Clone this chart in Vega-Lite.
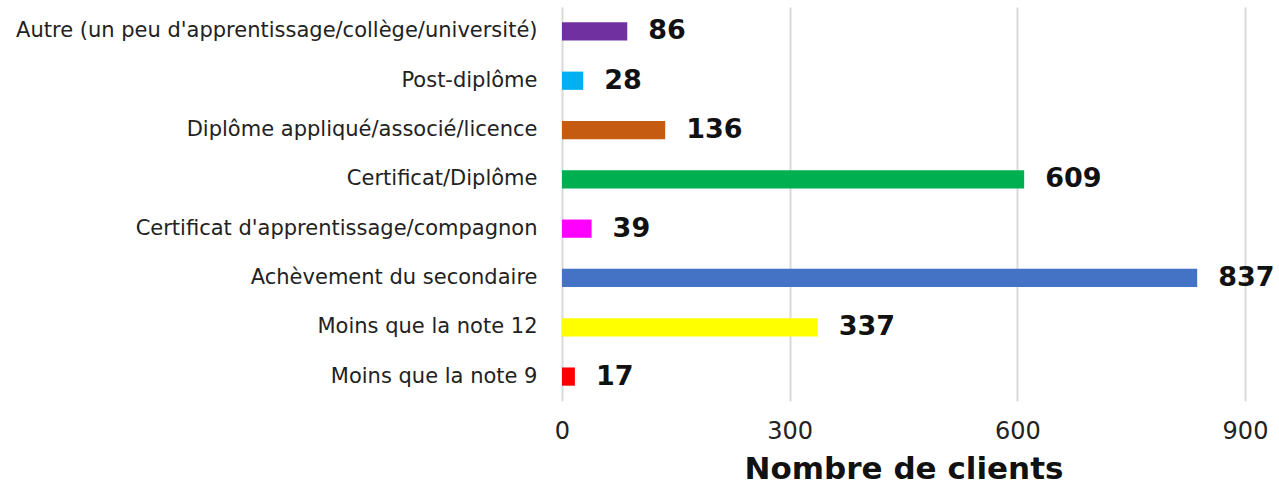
{
  "$schema": "https://vega.github.io/schema/vega-lite/v6.json",
  "autosize": "none",
  "width": 683,
  "height": 394,
  "padding": {"left": 562, "top": 7, "right": 34, "bottom": 91},
  "background": "white",
  "config": {"view": {"stroke": null}, "font": "DejaVu Sans"},
  "data": {"values": [
    {"cat": "Autre (un peu d'apprentissage/collège/université)", "n": 86, "color": "#7030A0"},
    {"cat": "Post-diplôme", "n": 28, "color": "#00B0F0"},
    {"cat": "Diplôme appliqué/associé/licence", "n": 136, "color": "#C55A11"},
    {"cat": "Certificat/Diplôme", "n": 609, "color": "#00B050"},
    {"cat": "Certificat d'apprentissage/compagnon", "n": 39, "color": "#FF00FF"},
    {"cat": "Achèvement du secondaire", "n": 837, "color": "#4472C4"},
    {"cat": "Moins que la note 12", "n": 337, "color": "#FFFF00"},
    {"cat": "Moins que la note 9", "n": 17, "color": "#FF0000"}
  ]},
  "encoding": {
    "y": {"field": "cat", "type": "nominal", "sort": null,
      "scale": {"paddingInner": 0.63, "paddingOuter": 0.31},
      "axis": {"title": null, "domain": false, "ticks": false, "labelFontSize": 21, "labelPadding": 25, "labelColor": "#222", "labelLimit": 700}},
    "x": {"field": "n", "type": "quantitative",
      "scale": {"domain": [0, 900], "nice": false},
      "axis": {"values": [0, 300, 600, 900], "title": "Nombre de clients", "titleFontSize": 31, "titleFontWeight": "bold", "titleColor": "#111", "titlePadding": 11,
        "domain": false, "ticks": false, "labelFontSize": 24, "labelPadding": 18, "labelColor": "#222", "grid": true, "gridColor": "#d9d9d9", "gridWidth": 2, "labelFlush": false}}
  },
  "layer": [
    {"mark": {"type": "bar"}, "encoding": {"color": {"field": "color", "type": "nominal", "scale": null}}},
    {"mark": {"type": "text", "align": "left", "dx": 21, "fontSize": 27, "fontWeight": "bold", "color": "#111"}, "encoding": {"text": {"field": "n", "type": "quantitative"}}}
  ]
}
